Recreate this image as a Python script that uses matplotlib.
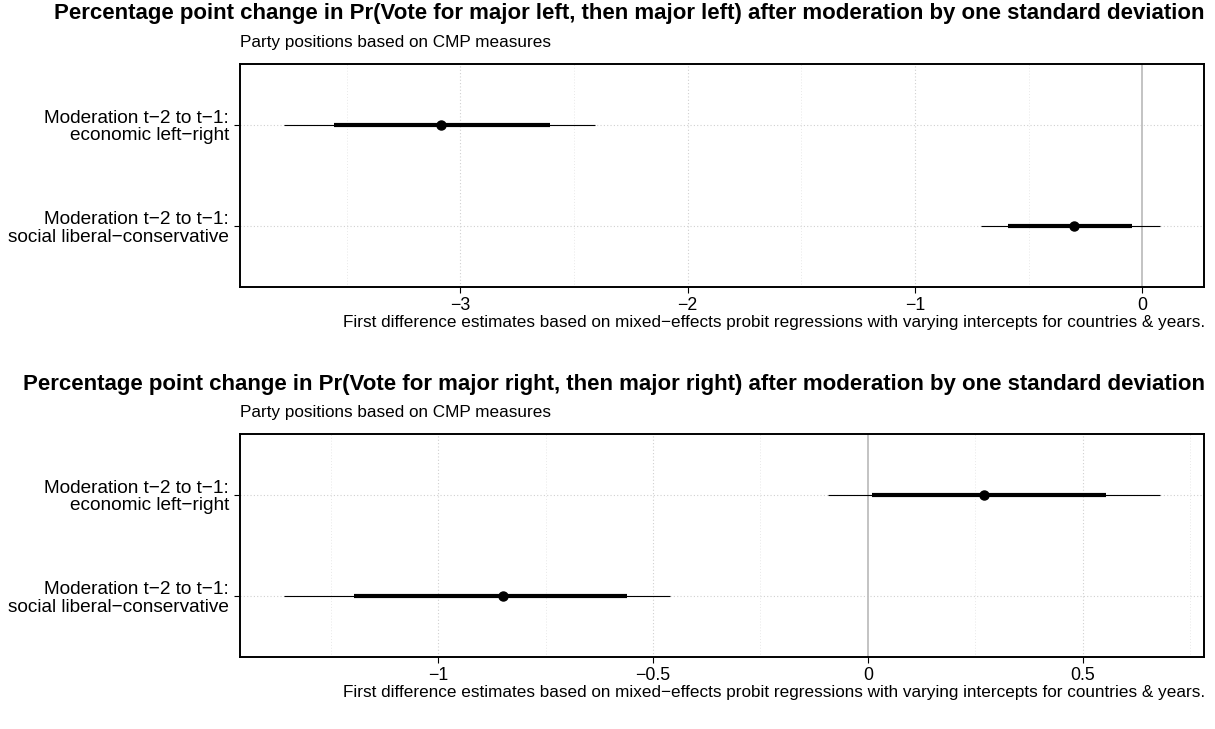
import matplotlib
matplotlib.use("Agg")
import matplotlib.pyplot as plt
import numpy as np

plt.rcParams['font.family'] = ['Liberation Sans', 'DejaVu Sans']

categories = ["Moderation t\u22122 to t\u22121:\neconomic left\u2212right",
              "Moderation t\u22122 to t\u22121:\nsocial liberal\u2212conservative"]

titles = ["Percentage point change in Pr(Vote for major left, then major left) after moderation by one standard deviation",
          "Percentage point change in Pr(Vote for major right, then major right) after moderation by one standard deviation"]
subtitle = "Party positions based on CMP measures"
caption = "First difference estimates based on mixed\u2212effects probit regressions with varying intercepts for countries & years."

# panel 1 (major left)
left_est = [-3.084, -0.300]
left_lo95 = [-3.776, -0.709]
left_hi95 = [-2.406, 0.079]
left_lo90 = [-3.556, -0.590]
left_hi90 = [-2.607, -0.047]
left_ticks = [-3, -2, -1, 0]
left_ticklabels = ["\u22123", "\u22122", "\u22121", "0"]
left_minor = [-3.5, -2.5, -1.5, -0.5]

# panel 2 (major right)
right_est = [0.269, -0.849]
right_lo95 = [-0.093, -1.359]
right_hi95 = [0.680, -0.460]
right_lo90 = [0.009, -1.195]
right_hi90 = [0.554, -0.560]
right_ticks = [-1, -0.5, 0, 0.5]
right_ticklabels = ["\u22121", "\u22120.5", "0", "0.5"]
right_minor = [-1.25, -0.75, -0.25, 0.25, 0.75]

fig = plt.figure(figsize=(12.15, 7.29), dpi=100)

panels = [
    (left_est, left_lo95, left_hi95, left_lo90, left_hi90, left_ticks, left_ticklabels, left_minor, titles[0]),
    (right_est, right_lo95, right_hi95, right_lo90, right_hi90, right_ticks, right_ticklabels, right_minor, titles[1]),
]

ax_left, ax_w, ax_h = 240/1215, 964/1215, 223/729
tops = [64, 434]

for (est, lo95, hi95, lo90, hi90, ticks, ticklabels, minor, title), top in zip(panels, tops):
    bottom_px = top + 223
    ax = fig.add_axes([ax_left, 1 - bottom_px/729, ax_w, ax_h])
    yv = np.array([1, 2])
    # grid
    for m in minor:
        ax.axvline(m, color='#E8E8E8', lw=0.7, ls=(0, (1, 2)), zorder=0)
    for t in ticks:
        if t != 0:
            ax.axvline(t, color='#D0D0D0', lw=0.8, ls=(0, (1, 2)), zorder=0)
    for y in yv:
        ax.axhline(y, color='#D0D0D0', lw=0.8, ls=(0, (1, 2)), zorder=0)
    ax.axvline(0, color='#BEBEBE', lw=1.3, zorder=1)
    ax.hlines(yv, lo95, hi95, color='black', lw=0.8, zorder=2)
    ax.hlines(yv, lo90, hi90, color='black', lw=3.0, zorder=3)
    ax.plot(est, yv, 'o', color='black', ms=6.5, zorder=4)
    lo, hi = min(lo95), max(hi95)
    span = hi - lo
    ax.set_xlim(lo - 0.05*span, hi + 0.05*span)
    ax.set_ylim(2.6, 0.4)
    ax.set_yticks(yv)
    ax.set_yticklabels(categories, fontsize=13.7, ha='right', multialignment='right',
                       linespacing=1.05)
    ax.set_xticks(ticks)
    ax.set_xticklabels(ticklabels, fontsize=12.8)
    ax.tick_params(axis='both', direction='out', length=4, width=0.8, color='black', pad=4)
    ax.tick_params(axis='x', pad=3.5)
    for s in ax.spines.values():
        s.set_linewidth(1.4)
        s.set_color('black')
    # title, subtitle, caption
    fig.text(1205/1215, 1 - (top - 50)/729, title, ha='right', va='center', fontsize=16, fontweight='bold')
    fig.text(240/1215, 1 - (top - 22)/729, subtitle, ha='left', va='center', fontsize=12.3)
    fig.text(1205/1215, 1 - (bottom_px + 35)/729, caption, ha='right', va='center', fontsize=12.35)

fig.savefig("out.png", dpi=100)
